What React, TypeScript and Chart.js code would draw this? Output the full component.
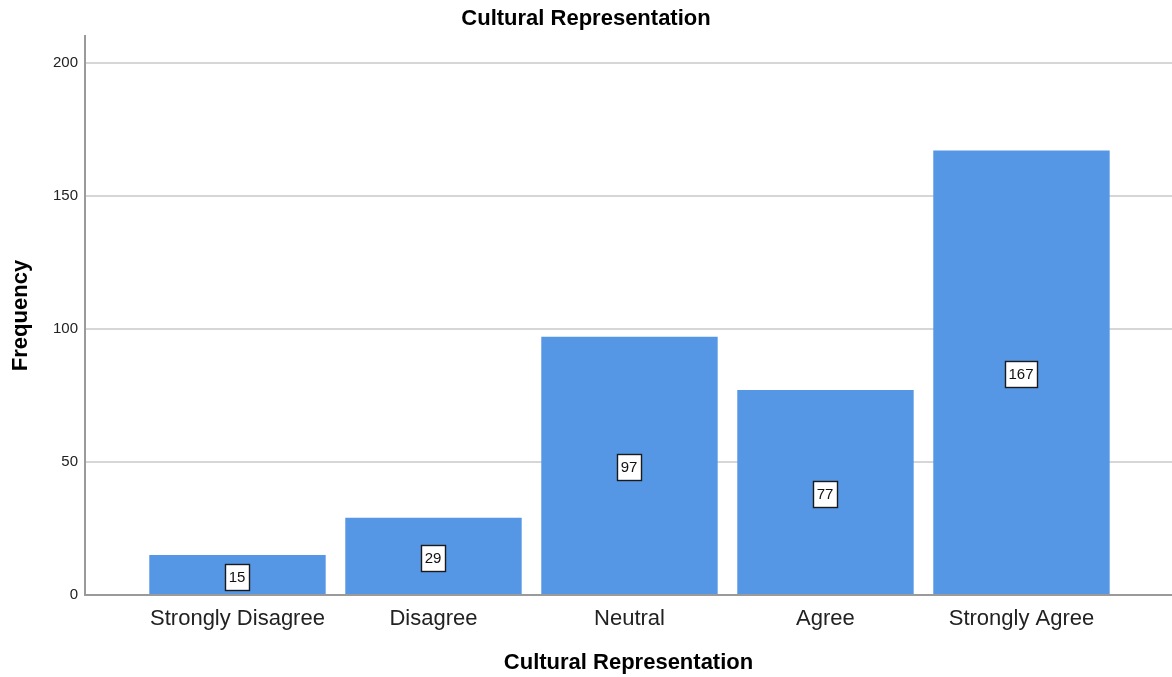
import { useEffect, useRef } from "react";
import { Chart, registerables } from "chart.js";

Chart.register(...registerables);

// Survey responses: frequency per answer
const categories = ["Strongly Disagree", "Disagree", "Neutral", "Agree", "Strongly Agree"];
const frequencies = [15, 29, 97, 77, 167];
const yTickValues = [0, 50, 100, 150, 200];
const yMax = 210;

const chartTitle = "Cultural Representation";
const xAxisTitle = "Cultural Representation";
const yAxisTitle = "Frequency";

const FONT = "'Liberation Sans', Arial, Helvetica, sans-serif";
const BAR_COLOR = "#5596e5";
const GRID_COLOR = "#d6d6d6";
const AXIS_COLOR = "#9a9a9a";

// Boxed count labels centred inside each bar
const valueBoxes = {
  id: "valueBoxes",
  afterDatasetsDraw(chart: any) {
    const ctx: CanvasRenderingContext2D = chart.ctx;
    const meta = chart.getDatasetMeta(0);
    const data = chart.data.datasets[0].data as { x: number; y: number }[];
    ctx.save();
    ctx.font = `15px ${FONT}`;
    ctx.textAlign = "center";
    ctx.textBaseline = "middle";
    meta.data.forEach((bar: any, i: number) => {
      const { x, y, base } = bar.getProps(["x", "y", "base"], true);
      const text = String(data[i].y);
      const cx = Math.round(x);
      const cy = Math.round((y + base) / 2 + 2);
      const w = Math.round(ctx.measureText(text).width + 7);
      const h = 26;
      const left = Math.round(cx - w / 2) + 0.5;
      const top = Math.round(cy - h / 2) + 0.5;
      ctx.fillStyle = "#ffffff";
      ctx.fillRect(left, top, w, h);
      ctx.strokeStyle = "#1a1a1a";
      ctx.lineWidth = 1.4;
      ctx.strokeRect(left, top, w, h);
      ctx.fillStyle = "#111111";
      ctx.fillText(text, cx, cy + 1);
    });
    ctx.restore();
  },
};

export default function App() {
  const canvasRef = useRef<HTMLCanvasElement | null>(null);

  useEffect(() => {
    document.body.style.margin = "0";
    const canvas = canvasRef.current;
    if (!canvas) return;

    const chart = new Chart(canvas, {
      type: "bar",
      data: {
        datasets: [
          {
            label: yAxisTitle,
            data: frequencies.map((v, i) => ({ x: i, y: v })),
            backgroundColor: BAR_COLOR,
            borderWidth: 0,
            barPercentage: 0.9,
            categoryPercentage: 1,
          },
        ],
      },
      options: {
        animation: false,
        responsive: false,
        maintainAspectRatio: false,
        layout: { padding: 0 },
        plugins: {
          legend: { display: false },
          tooltip: { enabled: false },
          title: {
            display: true,
            text: chartTitle,
            color: "#000000",
            font: { family: FONT, size: 22, weight: "bold", lineHeight: 1.2 },
            padding: { top: 6, bottom: 3.6 },
          },
        },
        scales: {
          x: {
            type: "linear",
            min: -0.778,
            max: 4.768,
            offset: false,
            bounds: "data",
            grid: { display: false, drawTicks: false, offset: false },
            border: { display: true, color: AXIS_COLOR, width: 2, z: 1 },
            afterBuildTicks: (scale: any) => {
              scale.ticks = categories.map((_, i) => ({ value: i }));
            },
            afterFit: (scale: any) => {
              scale.height = 82;
            },
            ticks: {
              autoSkip: false,
              maxRotation: 0,
              minRotation: 0,
              padding: 11,
              color: "#222222",
              font: { family: FONT, size: 22 },
              callback: (value: any) => categories[Math.round(Number(value))] ?? "",
            },
            title: {
              display: true,
              text: xAxisTitle,
              color: "#000000",
              font: { family: FONT, size: 22, weight: "bold", lineHeight: 1.2 },
              padding: { top: 4, bottom: 1 },
            },
          },
          y: {
            type: "linear",
            min: 0,
            max: yMax,
            grid: { color: GRID_COLOR, lineWidth: 2, drawTicks: false },
            border: { display: true, color: AXIS_COLOR, width: 2 },
            afterBuildTicks: (scale: any) => {
              scale.ticks = yTickValues.map((v) => ({ value: v }));
            },
            afterFit: (scale: any) => {
              scale.width = 85;
            },
            ticks: {
              padding: 7,
              color: "#222222",
              font: { family: FONT, size: 15 },
            },
            title: {
              display: true,
              text: yAxisTitle,
              color: "#000000",
              font: { family: FONT, size: 22, weight: "bold", lineHeight: 1.2 },
              padding: { top: 8, bottom: 0 },
            },
          },
        },
      },
      plugins: [valueBoxes],
    } as any);

    return () => chart.destroy();
  }, []);

  return (
    <div style={{ width: 1172, height: 677, background: "#ffffff" }}>
      <canvas ref={canvasRef} width={1172} height={677} style={{ display: "block" }} />
    </div>
  );
}
